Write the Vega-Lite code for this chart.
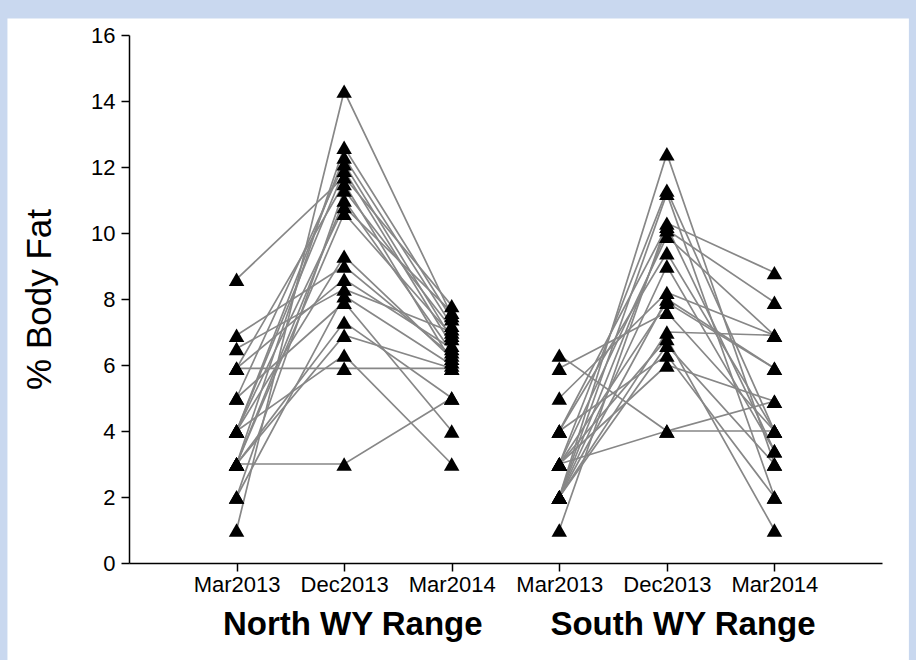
{
  "$schema": "https://vega.github.io/schema/vega-lite/v6.json",
  "width": 753,
  "height": 528,
  "autosize": {"type": "none"},
  "padding": {"left": 129, "top": 35, "right": 34, "bottom": 97},
  "background": "#c9d8ef",
  "config": {"view": {"stroke": null}, "font": "Liberation Sans"},
  "datasets": {
    "fat": [
      {"id": "N1", "pos": 1, "fat": 1.0}, {"id": "N1", "pos": 2, "fat": 14.3}, {"id": "N1", "pos": 3, "fat": 7.5},
      {"id": "N2", "pos": 1, "fat": 8.6}, {"id": "N2", "pos": 2, "fat": 11.7}, {"id": "N2", "pos": 3, "fat": 7.8},
      {"id": "N3", "pos": 1, "fat": 6.9}, {"id": "N3", "pos": 2, "fat": 9.0}, {"id": "N3", "pos": 3, "fat": 6.3},
      {"id": "N4", "pos": 1, "fat": 6.5}, {"id": "N4", "pos": 2, "fat": 8.3}, {"id": "N4", "pos": 3, "fat": 7.0},
      {"id": "N5", "pos": 1, "fat": 5.9}, {"id": "N5", "pos": 2, "fat": 8.6}, {"id": "N5", "pos": 3, "fat": 6.5},
      {"id": "N6", "pos": 1, "fat": 5.9}, {"id": "N6", "pos": 2, "fat": 11.5}, {"id": "N6", "pos": 3, "fat": 6.1},
      {"id": "N7", "pos": 1, "fat": 5.0}, {"id": "N7", "pos": 2, "fat": 12.1}, {"id": "N7", "pos": 3, "fat": 6.8},
      {"id": "N8", "pos": 1, "fat": 5.0}, {"id": "N8", "pos": 2, "fat": 7.9}, {"id": "N8", "pos": 3, "fat": 4.0},
      {"id": "N9", "pos": 1, "fat": 4.0}, {"id": "N9", "pos": 2, "fat": 12.3}, {"id": "N9", "pos": 3, "fat": 7.2},
      {"id": "N10", "pos": 1, "fat": 4.0}, {"id": "N10", "pos": 2, "fat": 11.9}, {"id": "N10", "pos": 3, "fat": 6.6},
      {"id": "N11", "pos": 1, "fat": 4.0}, {"id": "N11", "pos": 2, "fat": 10.8}, {"id": "N11", "pos": 3, "fat": 7.6},
      {"id": "N12", "pos": 1, "fat": 4.0}, {"id": "N12", "pos": 2, "fat": 6.3}, {"id": "N12", "pos": 3, "fat": 3.0},
      {"id": "N13", "pos": 1, "fat": 4.0}, {"id": "N13", "pos": 2, "fat": 9.3}, {"id": "N13", "pos": 3, "fat": 6.2},
      {"id": "N14", "pos": 1, "fat": 3.0}, {"id": "N14", "pos": 2, "fat": 3.0}, {"id": "N14", "pos": 3, "fat": 5.0},
      {"id": "N15", "pos": 1, "fat": 3.0}, {"id": "N15", "pos": 2, "fat": 12.6}, {"id": "N15", "pos": 3, "fat": 7.4},
      {"id": "N16", "pos": 1, "fat": 3.0}, {"id": "N16", "pos": 2, "fat": 11.0}, {"id": "N16", "pos": 3, "fat": 6.4},
      {"id": "N17", "pos": 1, "fat": 3.0}, {"id": "N17", "pos": 2, "fat": 6.9}, {"id": "N17", "pos": 3, "fat": 5.9},
      {"id": "N18", "pos": 1, "fat": 3.0}, {"id": "N18", "pos": 2, "fat": 10.6}, {"id": "N18", "pos": 3, "fat": 6.9},
      {"id": "N19", "pos": 1, "fat": 2.0}, {"id": "N19", "pos": 2, "fat": 11.3}, {"id": "N19", "pos": 3, "fat": 7.1},
      {"id": "N20", "pos": 1, "fat": 2.0}, {"id": "N20", "pos": 2, "fat": 8.1}, {"id": "N20", "pos": 3, "fat": 6.0},
      {"id": "N21", "pos": 1, "fat": 5.9}, {"id": "N21", "pos": 2, "fat": 5.9}, {"id": "N21", "pos": 3, "fat": 5.9},
      {"id": "N22", "pos": 1, "fat": 3.0}, {"id": "N22", "pos": 2, "fat": 7.3}, {"id": "N22", "pos": 3, "fat": 5.0},
      {"id": "S1", "pos": 4, "fat": 2.0}, {"id": "S1", "pos": 5, "fat": 12.4}, {"id": "S1", "pos": 6, "fat": 3.0},
      {"id": "S2", "pos": 4, "fat": 3.0}, {"id": "S2", "pos": 5, "fat": 11.3}, {"id": "S2", "pos": 6, "fat": 4.0},
      {"id": "S3", "pos": 4, "fat": 2.0}, {"id": "S3", "pos": 5, "fat": 11.2}, {"id": "S3", "pos": 6, "fat": 2.0},
      {"id": "S4", "pos": 4, "fat": 1.0}, {"id": "S4", "pos": 5, "fat": 10.3}, {"id": "S4", "pos": 6, "fat": 8.8},
      {"id": "S5", "pos": 4, "fat": 2.0}, {"id": "S5", "pos": 5, "fat": 10.1}, {"id": "S5", "pos": 6, "fat": 7.9},
      {"id": "S6", "pos": 4, "fat": 3.0}, {"id": "S6", "pos": 5, "fat": 9.9}, {"id": "S6", "pos": 6, "fat": 6.9},
      {"id": "S7", "pos": 4, "fat": 4.0}, {"id": "S7", "pos": 5, "fat": 9.4}, {"id": "S7", "pos": 6, "fat": 4.0},
      {"id": "S8", "pos": 4, "fat": 2.0}, {"id": "S8", "pos": 5, "fat": 9.0}, {"id": "S8", "pos": 6, "fat": 3.4},
      {"id": "S9", "pos": 4, "fat": 5.0}, {"id": "S9", "pos": 5, "fat": 8.2}, {"id": "S9", "pos": 6, "fat": 6.9},
      {"id": "S10", "pos": 4, "fat": 3.0}, {"id": "S10", "pos": 5, "fat": 7.9}, {"id": "S10", "pos": 6, "fat": 5.9},
      {"id": "S11", "pos": 4, "fat": 5.9}, {"id": "S11", "pos": 5, "fat": 7.6}, {"id": "S11", "pos": 6, "fat": 4.0},
      {"id": "S12", "pos": 4, "fat": 2.0}, {"id": "S12", "pos": 5, "fat": 7.0}, {"id": "S12", "pos": 6, "fat": 6.9},
      {"id": "S13", "pos": 4, "fat": 3.0}, {"id": "S13", "pos": 5, "fat": 6.8}, {"id": "S13", "pos": 6, "fat": 1.0},
      {"id": "S14", "pos": 4, "fat": 2.0}, {"id": "S14", "pos": 5, "fat": 6.6}, {"id": "S14", "pos": 6, "fat": 3.0},
      {"id": "S15", "pos": 4, "fat": 4.0}, {"id": "S15", "pos": 5, "fat": 6.3}, {"id": "S15", "pos": 6, "fat": 2.0},
      {"id": "S16", "pos": 4, "fat": 3.0}, {"id": "S16", "pos": 5, "fat": 6.0}, {"id": "S16", "pos": 6, "fat": 4.9},
      {"id": "S17", "pos": 4, "fat": 6.3}, {"id": "S17", "pos": 5, "fat": 4.0}, {"id": "S17", "pos": 6, "fat": 4.9},
      {"id": "S18", "pos": 4, "fat": 3.0}, {"id": "S18", "pos": 5, "fat": 4.0}, {"id": "S18", "pos": 6, "fat": 4.0},
      {"id": "S19", "pos": 4, "fat": 2.0}, {"id": "S19", "pos": 5, "fat": 8.0}, {"id": "S19", "pos": 6, "fat": 5.9},
      {"id": "S20", "pos": 4, "fat": 4.0}, {"id": "S20", "pos": 5, "fat": 10.2}, {"id": "S20", "pos": 6, "fat": 3.4}
    ],
    "groups": [
      {"group": "North WY Range", "center": 2.08},
      {"group": "South WY Range", "center": 5.15}
    ]
  },
  "layer": [
    {
      "description": "white slide panel behind the plot",
      "data": {"values": [{}]},
      "mark": {"type": "rect", "fill": "white", "clip": false},
      "encoding": {
        "x": {"datum": -1.13, "type": "quantitative", "scale": {"domain": [0, 7], "nice": false, "zero": false}},
        "x2": {"datum": 7.25},
        "y": {"datum": -4, "type": "quantitative", "scale": {"domain": [0, 16], "nice": false}},
        "y2": {"datum": 16.5}
      }
    },
    {
      "data": {"name": "fat"},
      "mark": {"type": "line", "color": "#878787", "strokeWidth": 1.7},
      "encoding": {
        "x": {
          "field": "pos", "type": "quantitative",
          "scale": {"domain": [0, 7], "nice": false, "zero": false},
          "axis": {
            "zindex": 1,
            "values": [1, 2, 3, 4, 5, 6],
            "labelExpr": "['', 'Mar2013', 'Dec2013', 'Mar2014', 'Mar2013', 'Dec2013', 'Mar2014'][datum.value]",
            "title": null, "grid": false,
            "domainColor": "black", "domainWidth": 1.5,
            "tickColor": "black", "tickWidth": 1.5, "tickSize": 8,
            "labelFontSize": 22, "labelColor": "black", "labelPadding": 3,
            "labelFlush": false, "labelOverlap": false
          }
        },
        "y": {
          "field": "fat", "type": "quantitative",
          "scale": {"domain": [0, 16], "nice": false},
          "axis": {
            "zindex": 1,
            "values": [0, 1, 2, 3, 4, 5, 6, 7, 8, 9, 10, 11, 12, 13, 14, 15, 16],
            "labelExpr": "datum.value % 2 === 0 ? datum.label : ''",
            "tickSize": {"condition": {"test": "datum.value % 2 === 1", "value": 4}, "value": 8},
            "title": "% Body Fat", "grid": false,
            "domainColor": "black", "domainWidth": 1.5,
            "tickColor": "black", "tickWidth": 1.5,
            "labelFontSize": 22, "labelColor": "black", "labelPadding": 6,
            "labelOverlap": false,
            "titleFontSize": 35, "titleFontWeight": "normal", "titleColor": "black", "titlePadding": 33
          }
        },
        "detail": {"field": "id"},
        "order": {"field": "pos"}
      }
    },
    {
      "data": {"name": "fat"},
      "mark": {"type": "point", "shape": "triangle-up", "filled": true, "color": "black", "opacity": 1, "size": 240},
      "encoding": {
        "x": {"field": "pos", "type": "quantitative"},
        "y": {"field": "fat", "type": "quantitative"}
      }
    },
    {
      "data": {"name": "groups"},
      "mark": {"type": "text", "fontSize": 33, "fontWeight": "bold", "color": "black", "baseline": "middle", "clip": false},
      "encoding": {
        "x": {"field": "center", "type": "quantitative"},
        "y": {"datum": -1.87, "type": "quantitative"},
        "text": {"field": "group"}
      }
    }
  ]
}
